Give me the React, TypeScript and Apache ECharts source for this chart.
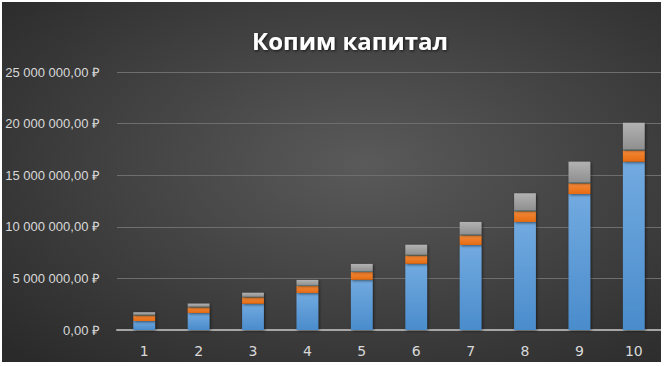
import React, { useEffect, useRef } from "react";
import * as echarts from "echarts";

const categories = ["1", "2", "3", "4", "5", "6", "7", "8", "9", "10"];
const capitalStart = [870000, 1650000, 2550000, 3590000, 4870000, 6420000, 8240000, 10470000, 13180000, 16310000];
const contributions = [550000, 550000, 620000, 680000, 750000, 810000, 940000, 1040000, 1040000, 1100000];
const extra = [60000, 60000, 60000, 60000, 60000, 60000, 80000, 80000, 80000, 80000];
const interest = [240000, 300000, 390000, 520000, 720000, 970000, 1210000, 1660000, 2010000, 2590000];

const fmt = (v: number) => {
  const s = Math.round(v).toString().replace(/\B(?=(\d{3})+(?!\d))/g, " ");
  return s + ",00 ₽";
};

const grad = (top: string, bottom: string) =>
  new echarts.graphic.LinearGradient(0, 0, 0, 1, [
    { offset: 0, color: top },
    { offset: 1, color: bottom },
  ]);

export default function App() {
  const ref = useRef<HTMLDivElement>(null);
  useEffect(() => {
    const chart = echarts.init(ref.current!, null, { renderer: "svg" });
    const shadow = { shadowBlur: 3, shadowColor: "rgba(0,0,0,0.55)", shadowOffsetX: 1, shadowOffsetY: 1 };
    chart.setOption({
      animation: false,
      backgroundColor: new echarts.graphic.RadialGradient(0.55, 0.45, 0.75, [
        { offset: 0, color: "#5a5a5a" },
        { offset: 1, color: "#2a2a2a" },
      ]),
      title: {
        text: "Копим капитал",
        left: 245,
        top: 21,
        textStyle: {
          color: "#ffffff",
          fontFamily: "Open Sans",
          fontWeight: "bold",
          fontSize: 24,
          textShadowColor: "rgba(0,0,0,0.7)",
          textShadowBlur: 3,
          textShadowOffsetX: 1,
          textShadowOffsetY: 1,
        },
      },
      grid: { left: 115, right: 0, top: 70, bottom: 32, containLabel: false },
      xAxis: {
        type: "category",
        data: categories,
        axisLine: { lineStyle: { color: "#a6a6a6", width: 2 } },
        axisTick: { show: false },
        axisLabel: { color: "#d9d9d9", fontSize: 14, fontFamily: "DejaVu Sans", margin: 14 },
      },
      yAxis: {
        type: "value",
        min: 0,
        max: 25000000,
        interval: 5000000,
        axisLine: { show: false },
        axisTick: { show: false },
        splitLine: { lineStyle: { color: "#6e6e6e", width: 1 } },
        axisLabel: {
          color: "#d9d9d9",
          fontSize: 13,
          fontFamily: "Liberation Sans",
          margin: 17,
          formatter: (v: number) => fmt(v),
        },
      },
      series: [
        {
          name: "Капитал",
          type: "bar",
          stack: "a",
          barWidth: "40%",
          data: capitalStart,
          itemStyle: { color: grad("#72aae0", "#4a8ccc"), ...shadow },
        },
        {
          name: "Взносы",
          type: "bar",
          stack: "a",
          data: contributions,
          itemStyle: { color: grad("#f58a3a", "#e56b12"), ...shadow },
        },
        {
          name: "Прочее",
          type: "bar",
          stack: "a",
          data: extra,
          itemStyle: { color: "#3f98a8" },
        },
        {
          name: "Проценты",
          type: "bar",
          stack: "a",
          data: interest,
          itemStyle: { color: grad("#b2b2b2", "#8f8f8f"), ...shadow },
        },
      ],
    });
    return () => chart.dispose();
  }, []);
  return (
    <div style={{ position: "fixed", left: 0, top: 0, width: 664, height: 366, background: "#ffffff" }}>
      <div ref={ref} style={{ position: "absolute", left: 2, top: 2, width: 659, height: 360 }} />
    </div>
  );
}
